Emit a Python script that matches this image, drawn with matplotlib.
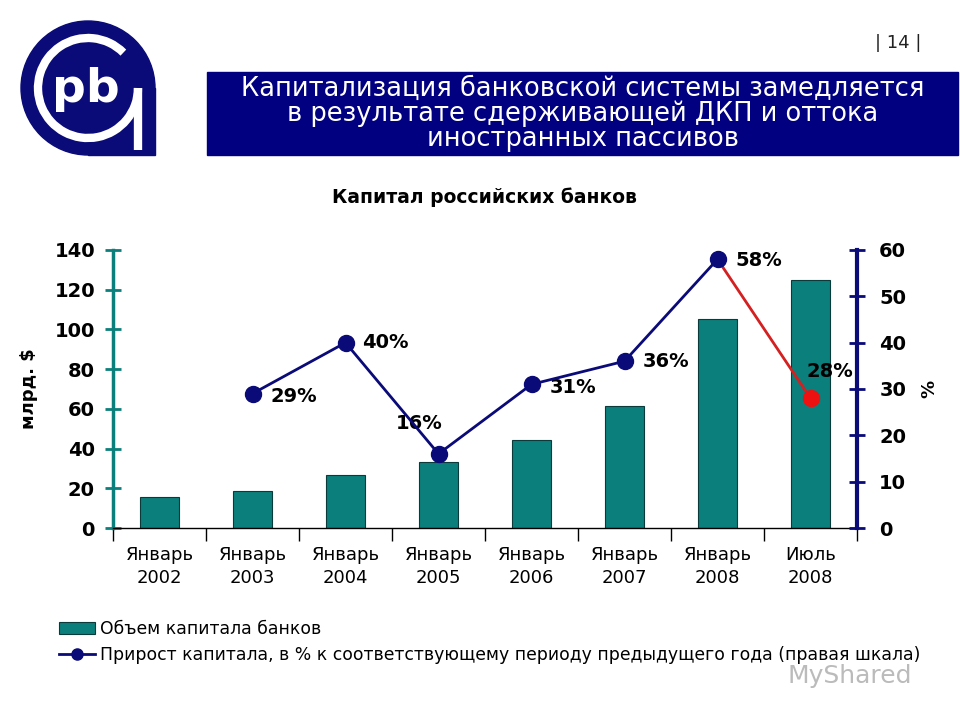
import matplotlib.pyplot as plt
import matplotlib.patches as mpatches
from matplotlib.lines import Line2D
import numpy as np

plt.rcParams['font.family'] = ['DejaVu Sans']

# data
periods = ["Январь\n2002", "Январь\n2003", "Январь\n2004", "Январь\n2005",
           "Январь\n2006", "Январь\n2007", "Январь\n2008", "Июль\n2008"]
capital = [15.6, 18.6, 26.7, 33.2, 44.3, 61.4, 105.2, 124.9]  # млрд $
growth = [None, 29, 40, 16, 31, 36, 58, 28]  # %
growth_labels = ["", "29%", "40%", "16%", "31%", "36%", "58%", "28%"]

teal = "#0a7f7b"
navy = "#0a0a78"

fig = plt.figure(figsize=(9.6, 7.2), dpi=100)

# header / decoration layer in pixel coords
bg = fig.add_axes([0, 0, 1, 1], zorder=0)
bg.set_xlim(0, 960)
bg.set_ylim(720, 0)
bg.axis("off")

# logo
bg.add_patch(mpatches.Circle((88, 88), 67, color=navy))
bg.add_patch(mpatches.Rectangle((88, 88), 67, 67, color=navy))
bg.add_patch(mpatches.Arc((88, 88), 100, 100, theta1=0, theta2=315,
                          color="white", lw=6))
bg.plot([138, 138], [88, 150], color="white", lw=6, solid_capstyle="butt")
bg.text(86, 90, "pb", color="white", fontsize=34, fontweight="bold",
        ha="center", va="center")

# title box
bg.add_patch(mpatches.Rectangle((207, 72), 751, 83, color="#000080"))
bg.text(583, 114, "Капитализация банковской системы замедляется\n"
        "в результате сдерживающей ДКП и оттока\nиностранных пассивов",
        color="white", fontsize=18.5, ha="center", va="center", linespacing=0.95)
bg.text(898, 43, "| 14 |", fontsize=13, ha="center", va="center", color="#222222")
bg.text(850, 676, "MyShared", fontsize=18, color="#bbbbbb", ha="center", va="center")

# chart
ax = fig.add_axes([113 / 960, 1 - 528 / 720, 744 / 960, 278 / 720], zorder=2)
x = np.arange(len(periods))
bars = ax.bar(x, capital, width=0.42, color=teal, edgecolor="#0a3a3a", lw=0.8,
              label="Объем капитала банков")
ax.set_xlim(-0.5, len(periods) - 0.5)
ax.set_ylim(0, 140)
ax.set_yticks(range(0, 141, 20))
ax.set_xticks([])
for s in ["top", "right"]:
    ax.spines[s].set_visible(False)
ax.spines["left"].set_color(teal)
ax.spines["left"].set_linewidth(2.5)
ax.spines["bottom"].set_linewidth(1)
ax.tick_params(axis="y", direction="inout", length=12, width=2, color=teal,
               labelsize=14, pad=7)
for t in ax.get_yticklabels():
    t.set_fontweight("bold")
ax.set_ylabel("млрд. $", fontsize=13, fontweight="bold", labelpad=12)

# category separators and labels
ax.set_xticks(np.arange(len(periods) + 1) - 0.5, minor=True)
ax.tick_params(axis="x", which="minor", direction="out", length=9, width=1)
for i, p in enumerate(periods):
    ax.text(i, -9.0, p, ha="center", va="top", fontsize=13, linespacing=1.38)

ax2 = ax.twinx()
ax2.set_ylim(0, 60)
ax2.set_yticks(range(0, 61, 10))
for s in ["top", "left", "bottom"]:
    ax2.spines[s].set_visible(False)
ax2.spines["right"].set_color(navy)
ax2.spines["right"].set_linewidth(3)
ax2.tick_params(axis="y", direction="inout", length=12, width=2, color=navy,
                labelsize=14, pad=10)
for t in ax2.get_yticklabels():
    t.set_fontweight("bold")
ax2.set_ylabel("%", fontsize=13, fontweight="bold", labelpad=10)

gx = x[1:7]
gy = growth[1:7]
ax2.plot(gx, gy, color=navy, lw=2, marker="o", ms=11.5, zorder=4)
ax2.plot(x[6:8], growth[6:8], color="#d42020", lw=2, zorder=3)
ax2.plot(x[7], growth[7], "o", color="#ee1111", ms=11.5, zorder=4)

offsets = {1: (13, -2, "left"), 2: (12, 0, "left"), 3: (-14, 22, "center"),
           4: (13, -2, "left"), 5: (13, 0, "left"), 6: (13, -1, "left"),
           7: (-3, 19, "left")}
for i, (dx, dy, ha) in offsets.items():
    ax2.annotate(growth_labels[i], (x[i], growth[i]), xytext=(dx, dy),
                 textcoords="offset points", ha=ha, va="center",
                 fontsize=14, fontweight="bold")

ax.set_title("Капитал российских банков", fontsize=13.5, fontweight="bold",
             pad=34)

h_line = Line2D([], [], color=navy, lw=2, marker="o", ms=8)
leg = fig.legend([bars, h_line],
                 ["Объем капитала банков",
                  "Прирост капитала, в % к соответствующему периоду предыдущего года (правая шкала)"],
                 loc="upper left", bbox_to_anchor=(52 / 960, 1 - 613 / 720),
                 frameon=False, fontsize=12.4, handlelength=2.1,
                 handletextpad=0.3, labelspacing=0.5, borderaxespad=0)

fig.savefig("out.png", dpi=100)
